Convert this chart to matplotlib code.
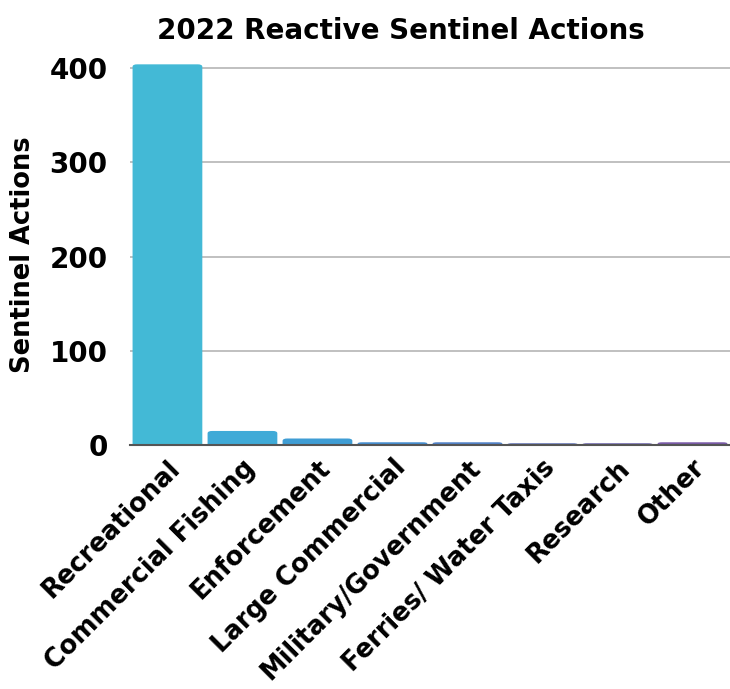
import matplotlib.pyplot as plt
from matplotlib.patches import FancyBboxPatch

plt.rcParams['font.family'] = ['DejaVu Sans']

# 数据
categories = ['Recreational', 'Commercial Fishing', 'Enforcement', 'Large Commercial',
              'Military/Government', 'Ferries/ Water Taxis', 'Research', 'Other']
actions = [404, 15, 7, 3, 3, 2, 2, 3]
colors = ['#43B9D6', '#3FAAD7', '#3F9DD4', '#468ED0', '#5282C8', '#6274B8', '#6E67AE', '#7A5BA8']
yticks = [0, 100, 200, 300, 400]

fig = plt.figure(figsize=(7.30, 6.89), dpi=100)
ax = fig.add_axes([0.178, 0.354, 0.822, 0.554])

x = list(range(len(categories)))
bw = 0.93
ax.bar(x, actions, width=bw, color='none')
for xi, v, c in zip(x, actions, colors):
    r = min(2.5, v * 0.5)
    ax.add_patch(FancyBboxPatch((xi - bw / 2, -r), bw, v + r,
                                boxstyle='round,pad=0,rounding_size=0.06',
                                mutation_aspect=r / 0.06 if r > 0 else 1,
                                facecolor=c, edgecolor='none', zorder=3))

ax.set_xlim(-0.5, len(categories) - 0.5)
ax.set_ylim(0, 405)
ax.set_yticks(yticks)
ax.set_yticklabels([str(t) for t in yticks], fontsize=20, fontweight='bold')
ax.yaxis.grid(True, color='#BBBBBB', linewidth=1.3, zorder=0)
ax.set_axisbelow(True)
ax.tick_params(axis='y', length=0, pad=16)
ax.tick_params(axis='x', length=0, pad=7)
ax.set_xticks(x)
ax.set_xticklabels(categories, rotation=45, ha='right', rotation_mode='anchor',
                   fontsize=18.5, fontweight='bold')
for s in ['top', 'right', 'left']:
    ax.spines[s].set_visible(False)
ax.spines['bottom'].set_color('#555555')
ax.spines['bottom'].set_linewidth(1.5)
ax.spines['bottom'].set_zorder(4)

ax.set_ylabel('Sentinel Actions', fontsize=18.5, fontweight='bold', labelpad=10)
fig.text(0.549, 0.955, '2022 Reactive Sentinel Actions', ha='center', va='center',
         fontsize=20, fontweight='bold')

fig.savefig('out.png', dpi=100)
